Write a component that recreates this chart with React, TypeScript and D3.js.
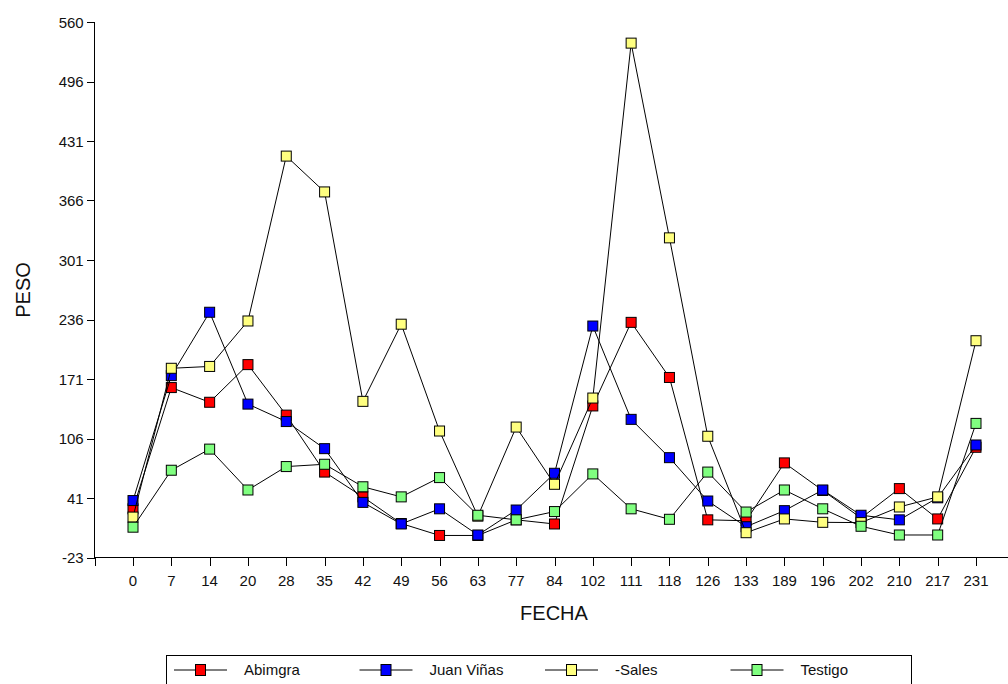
import React, { useRef, useEffect } from 'react';
import * as d3 from 'd3';

const fechas = ['0', '7', '14', '20', '28', '35', '42', '49', '56', '63', '77', '84', '102', '111', '118', '126', '133', '189', '196', '202', '210', '217', '231'];

const abimgra = [30, 162, 146, 187, 132, 70, 43, 14, 1, 1, 18, 13.5, 142, 233, 173, 18, 17, 80, 50, 20, 52, 19, 97];
const juanVinas = [39, 175, 244, 144, 125, 95.5, 37, 13.5, 30, 1.5, 28.7, 68.7, 229, 127.4, 85.7, 38.5, 10.5, 28, 50.5, 23, 18, 42, 99.5];
const sales = [21, 183, 185, 234.5, 414, 375, 147, 231, 114.7, 22, 119, 56.7, 150.6, 537, 325, 109, 4, 19, 15.3, 15, 32, 43, 213];
const testigo = [10, 72, 95, 50.5, 76, 78.5, 54, 43, 64, 23, 18, 27, 68, 30, 18.6, 70, 26.5, 50.5, 30, 11, 1.5, 1.5, 123];

const seriesNames = ['Abimgra', 'Juan Viñas', '-Sales', 'Testigo'];
const seriesColors = ['#ff0000', '#0000ff', '#ffff80', '#80ff80'];

const yTickLabels = ['-23', '41', '106', '171', '236', '301', '366', '431', '496', '560'];
const yMin = -23;
const yMax = 560;

const App = () => {
  const svgRef = useRef<SVGSVGElement>(null);

  useEffect(() => {
    const width = 1008;
    const height = 684;
    const font = '"Liberation Sans", Arial, sans-serif';
    const series = [abimgra, juanVinas, sales, testigo];

    const svg = d3.select(svgRef.current)
      .attr('width', width)
      .attr('height', height)
      .style('position', 'absolute')
      .style('left', '0px')
      .style('top', '0px')
      .style('background', '#fff');

    svg.selectAll('*').remove();

    const x = d3.scalePoint<string>()
      .domain(fechas)
      .range([133, 976]);
    const step = x.step();
    const x0 = 133 - step;

    const y = d3.scaleLinear()
      .domain([yMin, yMax])
      .range([557.5, 22]);

    const g = svg.append('g').attr('shape-rendering', 'crispEdges');

    // axes lines
    g.append('line')
      .attr('x1', x0).attr('x2', width)
      .attr('y1', y(yMin)).attr('y2', y(yMin))
      .attr('stroke', '#000');
    g.append('line')
      .attr('x1', x0).attr('x2', x0)
      .attr('y1', y(yMax)).attr('y2', y(yMin))
      .attr('stroke', '#000');

    // y ticks
    const yTickVals = yTickLabels.map((_, i) => yMin + i * (yMax - yMin) / (yTickLabels.length - 1));
    yTickVals.forEach((v, i) => {
      g.append('line')
        .attr('x1', x0 - 8).attr('x2', x0)
        .attr('y1', Math.round(y(v))).attr('y2', Math.round(y(v)))
        .attr('stroke', '#000');
      svg.append('text')
        .attr('x', x0 - 11)
        .attr('y', y(v) + 5.5)
        .attr('text-anchor', 'end')
        .style('font-family', font)
        .style('font-size', '15px')
        .attr('fill', '#111')
        .text(yTickLabels[i]);
    });

    // x ticks
    const xTickPos = [x0, ...fechas.map(f => x(f) as number)];
    xTickPos.forEach(px => {
      g.append('line')
        .attr('x1', Math.round(px)).attr('x2', Math.round(px))
        .attr('y1', y(yMin)).attr('y2', y(yMin) + 8)
        .attr('stroke', '#000');
    });
    fechas.forEach(f => {
      svg.append('text')
        .attr('x', x(f) as number)
        .attr('y', 586)
        .attr('text-anchor', 'middle')
        .style('font-family', font)
        .style('font-size', '15px')
        .attr('fill', '#111')
        .text(f);
    });

    // axis titles
    svg.append('text')
      .attr('x', 554)
      .attr('y', 620)
      .attr('text-anchor', 'middle')
      .style('font-family', font)
      .style('font-size', '20px')
      .attr('fill', '#111')
      .text('FECHA');
    svg.append('text')
      .attr('transform', 'translate(30,290) rotate(-90)')
      .attr('text-anchor', 'middle')
      .style('font-family', font)
      .style('font-size', '20px')
      .attr('fill', '#111')
      .text('PESO');

    // lines + markers
    const line = d3.line<number>()
      .x((_, i) => x(fechas[i]) as number)
      .y(d => y(d));

    series.forEach((vals, si) => {
      svg.append('path')
        .datum(vals)
        .attr('d', line)
        .attr('fill', 'none')
        .attr('stroke', '#000')
        .attr('stroke-width', 1);
      svg.append('g')
        .selectAll('rect')
        .data(vals)
        .enter()
        .append('rect')
        .attr('x', (_, i) => (x(fechas[i]) as number) - 5)
        .attr('y', d => y(d) - 5)
        .attr('width', 10)
        .attr('height', 10)
        .attr('fill', seriesColors[si])
        .attr('stroke', '#000')
        .attr('stroke-width', 1);
    });

    // legend
    const legend = svg.append('g');
    legend.append('rect')
      .attr('x', 166.5).attr('y', 655.5)
      .attr('width', 745).attr('height', 40)
      .attr('fill', 'none')
      .attr('stroke', '#000');
    seriesNames.forEach((name, i) => {
      const lx = 174 + i * 185.5;
      const ly = 670;
      legend.append('line')
        .attr('x1', lx).attr('x2', lx + 53)
        .attr('y1', ly).attr('y2', ly)
        .attr('stroke', '#000');
      legend.append('rect')
        .attr('x', lx + 21.5).attr('y', ly - 5.5)
        .attr('width', 10).attr('height', 11)
        .attr('fill', seriesColors[i])
        .attr('stroke', '#000');
      legend.append('text')
        .attr('x', lx + 70)
        .attr('y', ly + 5)
        .style('font-family', font)
        .style('font-size', '15px')
        .attr('fill', '#111')
        .text(name);
    });
  }, []);

  return <svg ref={svgRef}></svg>;
};

export default App;
